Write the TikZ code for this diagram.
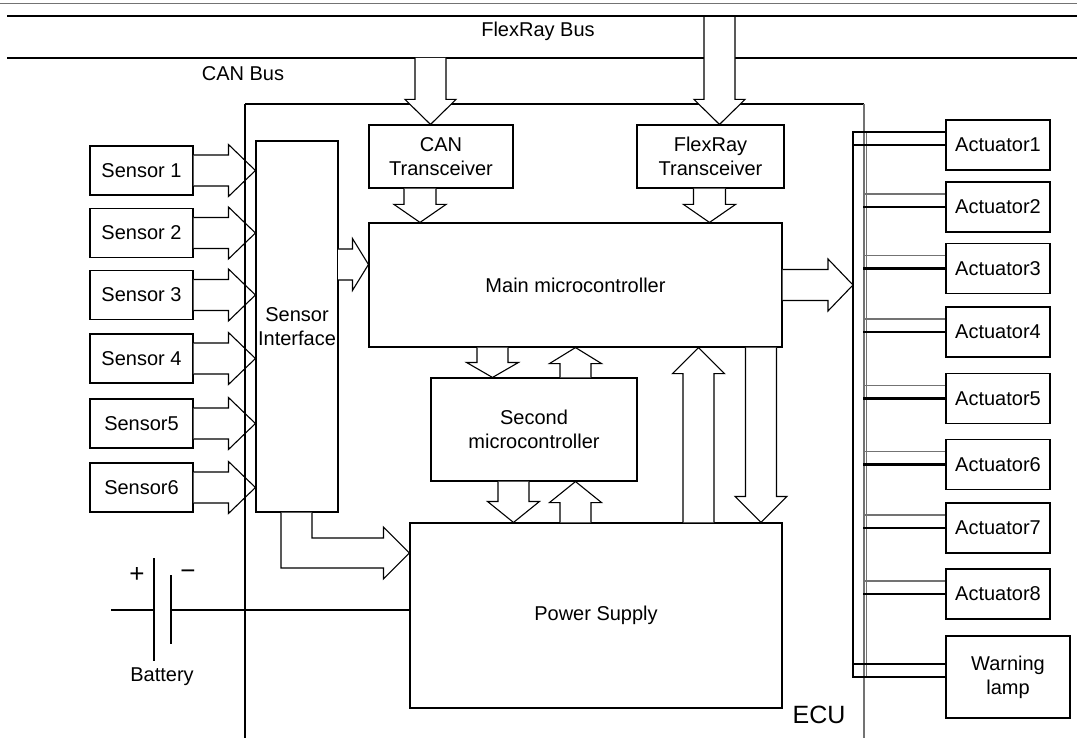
\documentclass[tikz,border=0pt]{standalone}
\usepackage{fontspec}
\setmainfont{Liberation Sans}
\usetikzlibrary{calc}
\definecolor{gbus}{gray}{0.45}
\tikzset{
 box/.style={draw, line width=1.1pt, inner sep=0pt, align=center, font=\fontsize{20}{24}\selectfont},
 blk/.style={draw, fill=white, line width=1.1pt, line join=miter},
 lbl/.style={inner sep=0pt, align=center, font=\fontsize{20}{24}\selectfont},
 ln/.style={line width=1.1pt},
 thk/.style={line width=2.8pt, line cap=rect},
 gln/.style={line width=1.3pt, draw=gbus},
}
% #1 start, #2 tip, #3 head length, #4 shaft half width, #5 head half width
\newcommand{\barrow}[5]{%
 \path[blk] let \p1=(#1), \p2=(#2), \n1={atan2(\y2-\y1,\x2-\x1)} in
 ($(\p1)+(\n1+90:#4)$) -- ($(\p2)+(\n1+180:#3)+(\n1+90:#4)$) --
 ($(\p2)+(\n1+180:#3)+(\n1+90:#5)$) -- (\p2) --
 ($(\p2)+(\n1+180:#3)+(\n1-90:#5)$) -- ($(\p2)+(\n1+180:#3)+(\n1-90:#4)$) --
 ($(\p1)+(\n1-90:#4)$);}
\begin{document}
\begin{tikzpicture}[x=1pt,y=-1pt]
\useasboundingbox[fill=white] (0,0) rectangle (1077,738);

% bus lines (thin ones first)
\draw[gln, line width=1pt] (0,4) -- (1077,4);
\draw[ln] (7,58) -- (1077,58);
\node[lbl] (flexlbl) at (538,31) {FlexRay Bus};
\node[lbl] (canlbl) at (243,74) {CAN Bus};

% ECU outline (top and right)
\draw[ln] (245,104) -- (864,104);
\draw[gln] (864,104) -- (864,738);
\draw[gln] (866.5,132) -- (866.5,677);
\node[lbl, font=\fontsize{25}{29}\selectfont] (ecu) at (819,715) {ECU};

% boxes
\node[box, minimum width=103pt, minimum height=49pt] (S1) at (141.5,170.5) {Sensor 1};
\node[box, minimum width=103pt, minimum height=49pt] (S2) at (141.5,233) {Sensor 2};
\node[box, minimum width=103pt, minimum height=49pt] (S3) at (141.5,295) {Sensor 3};
\node[box, minimum width=103pt, minimum height=49pt] (S4) at (141.5,358.5) {Sensor 4};
\node[box, minimum width=103pt, minimum height=49pt] (S5) at (141.5,423.5) {Sensor5};
\node[box, minimum width=103pt, minimum height=49pt] (S6) at (141.5,487.5) {Sensor6};

\node[box, minimum width=82pt, minimum height=371pt] (SI) at (297,326.5) {Sensor\\Interface};
\node[box, minimum width=144pt, minimum height=63pt] (CAN) at (441,156.5) {CAN\\Transceiver};
\node[box, minimum width=147pt, minimum height=63pt] (FR) at (710.5,156.5) {FlexRay\\Transceiver};
\node[box, minimum width=413pt, minimum height=124pt] (Main) at (575.5,285) {Main microcontroller};
\node[box, minimum width=206pt, minimum height=103pt] (Sec) at (534,429.5) {Second\\microcontroller};
\node[box, minimum width=372pt, minimum height=185pt] (PS) at (596,615.5) {Power Supply};

\node[box, minimum width=104pt, minimum height=50pt] (A1) at (998,145) {Actuator1};
\node[box, minimum width=104pt, minimum height=50pt] (A2) at (998,207) {Actuator2};
\node[box, minimum width=104pt, minimum height=50pt] (A3) at (998,268.5) {Actuator3};
\node[box, minimum width=104pt, minimum height=50pt] (A4) at (998,332) {Actuator4};
\node[box, minimum width=104pt, minimum height=50pt] (A5) at (998,398.5) {Actuator5};
\node[box, minimum width=104pt, minimum height=50pt] (A6) at (998,464.5) {Actuator6};
\node[box, minimum width=104pt, minimum height=50pt] (A7) at (998,528) {Actuator7};
\node[box, minimum width=104pt, minimum height=50pt] (A8) at (998,594) {Actuator8};
\node[box, minimum width=124pt, minimum height=82pt] (WL) at (1008,677) {Warning\\lamp};

% helper coordinates
\coordinate (canA) at (430.5,58);
\coordinate (frA) at (719.5,16);
\coordinate (canB) at (420,0);
\coordinate (frB) at (709.5,0);
\coordinate (ms1) at (492.5,0);
\coordinate (ms2) at (575.5,0);
\coordinate (sp1) at (513.5,0);
\coordinate (mp1) at (698.5,0);
\coordinate (mp2) at (761,0);
\coordinate (siout) at (338,264.5);
\coordinate (busTop) at (853,132);
\coordinate (busBot) at (853,677);
\coordinate (bat) at (171,610);

% bus to transceivers
\barrow{canA}{CAN.north -| canA}{25pt}{15.5pt}{25.5pt}
\barrow{frA}{FR.north -| frA}{25pt}{15.5pt}{25.5pt}
\draw[ln, line width=2.4pt] (7,16) -- (1077,16);
% transceivers to main
\barrow{CAN.south -| canB}{Main.north -| canB}{18pt}{16pt}{26pt}
\barrow{FR.south -| frB}{Main.north -| frB}{18pt}{16pt}{26pt}
% sensors
\barrow{S1.east}{SI.west |- S1.east}{27pt}{15.5pt}{26pt}
\barrow{S2.east}{SI.west |- S2.east}{27pt}{15.5pt}{26pt}
\barrow{S3.east}{SI.west |- S3.east}{27pt}{15.5pt}{26pt}
\barrow{S4.east}{SI.west |- S4.east}{27pt}{15.5pt}{26pt}
\barrow{S5.east}{SI.west |- S5.east}{27pt}{15.5pt}{26pt}
\barrow{S6.east}{SI.west |- S6.east}{27pt}{15.5pt}{26pt}
% interface to main
\barrow{siout}{Main.west |- siout}{16pt}{15.5pt}{26pt}
% main <-> second
\barrow{Main.south -| ms1}{Sec.north -| ms1}{15pt}{15.5pt}{26pt}
\barrow{Sec.north -| ms2}{Main.south -| ms2}{16pt}{15.5pt}{26pt}
% second <-> power
\barrow{Sec.south -| sp1}{PS.north -| sp1}{21pt}{15.5pt}{26pt}
\barrow{PS.north -| ms2}{Sec.south -| ms2}{21pt}{15.5pt}{26pt}
% main <-> power
\barrow{PS.north -| mp1}{Main.south -| mp1}{26pt}{15.5pt}{26pt}
\barrow{Main.south -| mp2}{PS.north -| mp2}{26pt}{15.5pt}{26pt}
% main to actuator bus
\barrow{Main.east}{busTop |- Main.east}{25pt}{15.5pt}{26pt}
% interface to power (bent)
\draw[blk] ($(SI.south)+(-16,0)$) |- ($(PS.west)+(-26,-47.5)$) -- ($(PS.west)+(-26,-36.5)$)
 -- ($(PS.west)+(0,-62.5)$) -- ($(PS.west)+(-26,-88.5)$) -- ($(PS.west)+(-26,-77.5)$)
 -| ($(SI.south)+(15,0)$);

% actuator bus
\draw[thk] (busTop) -- (busBot);
\draw[ln] ($(A1.west)+(0,-13)$) -- (busTop);
\draw[thk, line cap=butt] (A1.west) -- (busTop |- A1.west);
\foreach \n in {2,...,8} {
 \draw[gln] ($(A\n.west)+(0,-13)$) -- ++(-82,0);
 \draw[thk, line cap=butt] (A\n.west) -- ++(-82,0);
}
\draw[ln] ($(WL.west)+(0,-13)$) -- ($(busBot)+(0,-13)$);
\draw[thk, line cap=butt] (WL.west) -- (busBot);

% battery
\draw[ln] (111,610) -- (154,610);
\draw[ln] (154,558) -- (154,661);
\draw[ln] (171,575) -- (171,644);
\draw[ln] (bat) -- (PS.west |- bat);
\node[lbl, font=\fontsize{26}{30}\selectfont] (plus) at (137,575) {+};
\node[lbl, font=\fontsize{26}{30}\selectfont] (minus) at (188,575) {−};
\node[lbl] (batlbl) at (162,677) {Battery};

% ECU left edge (on top, visible through sensor arrows)
\draw[ln] (245,104) -- (245,738);
\end{tikzpicture}
\end{document}
